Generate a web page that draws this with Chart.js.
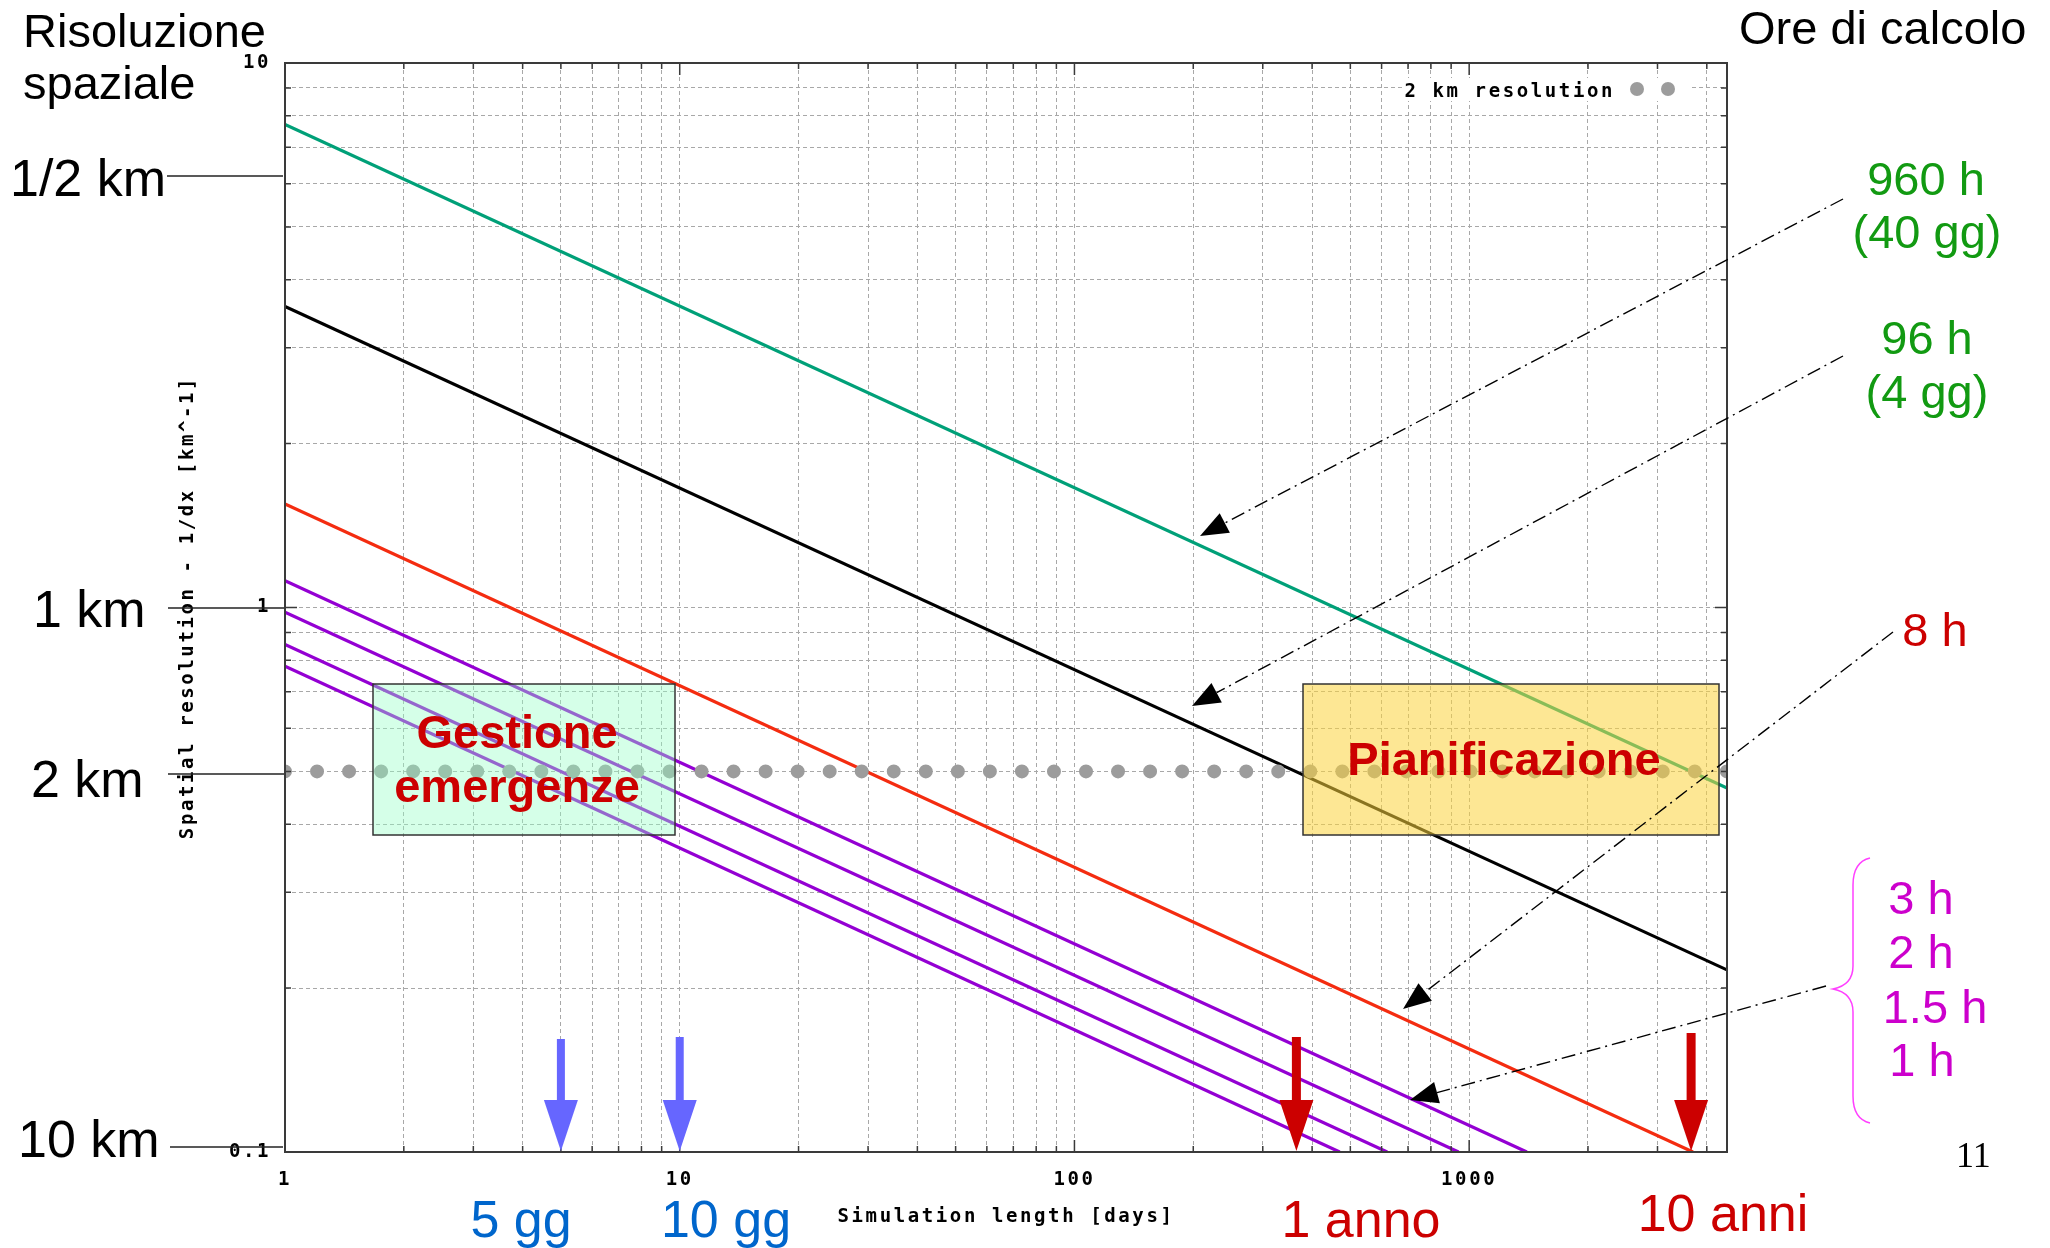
<!DOCTYPE html>
<html>
<head>
<meta charset="utf-8">
<title>Risoluzione spaziale e ore di calcolo</title>
<script src="https://cdn.jsdelivr.net/npm/chart.js@4/dist/chart.umd.min.js"></script>
<style>
  html, body { margin: 0; padding: 0; background: #ffffff; }
  #wrap { position: relative; width: 2050px; height: 1248px; }
  canvas { display: block; }
</style>
</head>
<body>
<div id="wrap"><canvas id="plot" width="2050" height="1248"></canvas></div>
<script>
// ---- data -------------------------------------------------------------
// CPU-time curves: spatial resolution (1/dx, km^-1) against simulation length (days)
const seriesNames   = ['960 h', '96 h', '8 h', '3 h', '2 h', '1.5 h', '1 h'];
const seriesColors  = ['#00a078', '#000000', '#f42c10', '#9400d3', '#9400d3', '#9400d3', '#9400d3'];
const firstDay      = [1, 1, 1, 1, 1, 1, 1];
const resAtFirstDay = [7.71, 3.57, 1.55, 1.12, 0.98, 0.855, 0.78];
const lastDay       = [4500, 4500, 3690, 1400, 940, 620, 470];
const resAtLastDay  = [0.466, 0.216, 0.1, 0.1, 0.1, 0.1, 0.1];

// reference level: 2 km grid spacing
const refName = '2 km resolution';
const refDays = [1, 4500];
const refRes  = [0.5, 0.5];

// axes
const xRange = [1, 4500];
const yRange = [0.1, 10];
const xTickLabels = [1, 10, 100, 1000];
const yTickLabels = [0.1, 1, 10];

// time horizons marked under the plot
const markerDays   = [5, 10, 365, 3650];
const markerLabels = ['5 gg', '10 gg', '1 anno', '10 anni'];

// ---- helpers ----------------------------------------------------------
const MONO = "'DejaVu Sans Mono', 'Liberation Mono', monospace";
const SANS = "'Liberation Sans', Arial, sans-serif";
const MONO_SPACING = '2.6px';

function wholeSignificand(v) {
  const p = Math.pow(10, Math.floor(Math.log10(v) + 1e-9));
  const s = v / p;
  return Math.abs(s - Math.round(s)) < 1e-6;
}
function isDecade(v) {
  const l = Math.log10(v);
  return Math.abs(l - Math.round(l)) < 1e-9;
}
function inList(list, v) {
  return list.some(t => Math.abs(t - v) / t < 1e-9);
}
function keepWholeTicks(scale) {
  scale.ticks = scale.ticks.filter(t => wholeSignificand(t.value));
}

const datasets = [{
  label: refName,
  data: refDays.map((d, i) => ({ x: d, y: refRes[i] })),
  borderColor: '#9c9c9c',
  borderWidth: 14,
  borderDash: [0, 32.04],
  borderCapStyle: 'round',
  pointRadius: 0,
  tension: 0
}];
seriesNames.forEach((name, i) => {
  datasets.push({
    label: name,
    data: [{ x: firstDay[i], y: resAtFirstDay[i] }, { x: lastDay[i], y: resAtLastDay[i] }],
    borderColor: seriesColors[i],
    borderWidth: 3.2,
    pointRadius: 0,
    tension: 0
  });
});

// ---- drawing helpers for the slide annotations ------------------------
function text(ctx, str, x, y, font, color, align) {
  ctx.font = font;
  ctx.fillStyle = color;
  ctx.textAlign = align || 'left';
  ctx.textBaseline = 'alphabetic';
  ctx.fillText(str, x, y);
}
function pointer(ctx, x0, y0, x1, y1) {
  const a = Math.atan2(y1 - y0, x1 - x0);
  const len = 28, half = 11;
  const bx = x1 - len * Math.cos(a), by = y1 - len * Math.sin(a);
  ctx.save();
  ctx.strokeStyle = '#000';
  ctx.lineWidth = 1.4;
  ctx.setLineDash([14, 5, 2, 5]);
  ctx.beginPath();
  ctx.moveTo(x0, y0);
  ctx.lineTo(bx, by);
  ctx.stroke();
  ctx.setLineDash([]);
  ctx.fillStyle = '#000';
  ctx.beginPath();
  ctx.moveTo(x1, y1);
  ctx.lineTo(bx + half * Math.sin(a), by - half * Math.cos(a));
  ctx.lineTo(bx - half * Math.sin(a), by + half * Math.cos(a));
  ctx.closePath();
  ctx.fill();
  ctx.restore();
}
function bigArrow(ctx, x, top, headBase, tip, shaft, half, color) {
  ctx.fillStyle = color;
  ctx.fillRect(x - shaft / 2, top, shaft, headBase - top + 1);
  ctx.beginPath();
  ctx.moveTo(x - half, headBase);
  ctx.lineTo(x + half, headBase);
  ctx.lineTo(x, tip);
  ctx.closePath();
  ctx.fill();
}
function leader(ctx, x0, x1, y) {
  ctx.strokeStyle = '#222';
  ctx.lineWidth = 1.5;
  ctx.setLineDash([]);
  ctx.beginPath();
  ctx.moveTo(x0, y);
  ctx.lineTo(x1, y);
  ctx.stroke();
}

const overlay = {
  id: 'overlay',
  beforeDraw(chart) {
    chart.ctx.letterSpacing = MONO_SPACING;
  },
  afterDraw(chart) {
    const ctx = chart.ctx;
    const area = chart.chartArea;
    const xs = chart.scales.x, ys = chart.scales.y;
    ctx.save();
    ctx.letterSpacing = '0px';

    // translucent application boxes
    ctx.fillStyle = 'rgba(150, 255, 198, 0.40)';
    ctx.fillRect(373, 684, 302, 151);
    ctx.fillStyle = 'rgba(252, 212, 60, 0.55)';
    ctx.fillRect(1303, 684, 416, 151);
    ctx.strokeStyle = '#333';
    ctx.lineWidth = 1.5;
    ctx.strokeRect(373, 684, 302, 151);
    ctx.strokeRect(1303, 684, 416, 151);

    // plot frame with inward ticks on all four sides
    ctx.strokeStyle = '#3a3a3a';
    ctx.lineWidth = 1.5;
    ctx.beginPath();
    xs.ticks.forEach(t => {
      const px = xs.getPixelForValue(t.value);
      const l = isDecade(t.value) ? 12 : 6;
      ctx.moveTo(px, area.bottom); ctx.lineTo(px, area.bottom - l);
      ctx.moveTo(px, area.top); ctx.lineTo(px, area.top + l);
    });
    ys.ticks.forEach(t => {
      const py = ys.getPixelForValue(t.value);
      const l = isDecade(t.value) ? 12 : 6;
      ctx.moveTo(area.left, py); ctx.lineTo(area.left + l, py);
      ctx.moveTo(area.right, py); ctx.lineTo(area.right - l, py);
    });
    ctx.stroke();
    ctx.lineWidth = 2;
    ctx.strokeRect(area.left, area.top, area.right - area.left, area.bottom - area.top);

    // key
    ctx.fillStyle = '#ffffff';
    ctx.fillRect(1402, 78, 290, 23);
    ctx.letterSpacing = MONO_SPACING;
    text(ctx, refName, 1615, 97, 'bold 19px ' + MONO, '#000', 'right');
    ctx.letterSpacing = '0px';
    ctx.fillStyle = '#9c9c9c';
    [1637, 1668].forEach(cx => { ctx.beginPath(); ctx.arc(cx, 89, 7, 0, 2 * Math.PI); ctx.fill(); });

    // box captions
    const boxFont = 'bold 47px ' + SANS;
    text(ctx, 'Gestione', 517, 748, boxFont, '#cc0000', 'center');
    text(ctx, 'emergenze', 517, 802, boxFont, '#cc0000', 'center');
    text(ctx, 'Pianificazione', 1504, 775, boxFont, '#cc0000', 'center');

    // headings
    const big = '47px ' + SANS;
    text(ctx, 'Risoluzione', 23, 47, big, '#000');
    text(ctx, 'spaziale', 23, 99, big, '#000');
    text(ctx, 'Ore di calcolo', 1739, 44, big, '#000');

    // resolution labels on the left
    const lab = '52px ' + SANS;
    text(ctx, '1/2 km', 10, 196, lab, '#000');
    leader(ctx, 167, 283, 176);
    text(ctx, '1 km', 33, 627, lab, '#000');
    leader(ctx, 168, 284, 608);
    text(ctx, '2 km', 31, 797, lab, '#000');
    leader(ctx, 168, 284, 774);
    text(ctx, '10 km', 18, 1157, lab, '#000');
    leader(ctx, 170, 283, 1147);

    // CPU-time labels on the right
    const green = '#129a12', red = '#cc0000', mag = '#cc00cc';
    text(ctx, '960 h', 1926, 195, big, green, 'center');
    text(ctx, '(40 gg)', 1927, 248, big, green, 'center');
    text(ctx, '96 h', 1927, 354, big, green, 'center');
    text(ctx, '(4 gg)', 1927, 408, big, green, 'center');
    text(ctx, '8 h', 1935, 646, big, red, 'center');
    text(ctx, '3 h', 1921, 914, big, mag, 'center');
    text(ctx, '2 h', 1921, 968, big, mag, 'center');
    text(ctx, '1.5 h', 1935, 1023, big, mag, 'center');
    text(ctx, '1 h', 1922, 1076, big, mag, 'center');

    // brace grouping the short runs
    ctx.strokeStyle = '#ff40ff';
    ctx.lineWidth = 1.5;
    ctx.beginPath();
    ctx.moveTo(1870, 858);
    ctx.quadraticCurveTo(1853, 862, 1853, 885);
    ctx.lineTo(1853, 966);
    ctx.quadraticCurveTo(1853, 985, 1833, 989);
    ctx.quadraticCurveTo(1853, 993, 1853, 1012);
    ctx.lineTo(1853, 1096);
    ctx.quadraticCurveTo(1853, 1119, 1870, 1123);
    ctx.stroke();

    // dash-dot pointers from the labels to the curves
    pointer(ctx, 1843, 199, 1200, 536);
    pointer(ctx, 1843, 356, 1192, 706);
    pointer(ctx, 1893, 632, 1403, 1009);
    pointer(ctx, 1826, 986, 1410, 1100);

    // time-horizon arrows on the x axis
    const mColors = ['#6666ff', '#6666ff', '#cc0000', '#cc0000'];
    const mTop = [1039, 1037, 1037, 1033];
    const mShaft = [8, 8, 9, 9];
    markerDays.forEach((d, i) => {
      const px = xs.getPixelForValue(d);
      bigArrow(ctx, px, mTop[i], 1100, area.bottom - 1, mShaft[i], 17, mColors[i]);
    });
    const mLabelX = [521, 726, 1361, 1723];
    const mLabelY = [1237, 1237, 1237, 1231];
    const mLabelColor = ['#0066cc', '#0066cc', '#cc0000', '#cc0000'];
    markerLabels.forEach((s, i) => text(ctx, s, mLabelX[i], mLabelY[i], lab, mLabelColor[i], 'center'));

    // page number
    text(ctx, '11', 1956, 1167, '36px "Liberation Serif", "Times New Roman", serif', '#000');

    ctx.restore();
  }
};

const tickFont = { family: MONO, size: 19, weight: 'bold' };

new Chart(document.getElementById('plot'), {
  type: 'line',
  data: { datasets },
  options: {
    responsive: false,
    animation: false,
    events: [],
    devicePixelRatio: 1,
    layout: { padding: { left: 0, top: 63, right: 323, bottom: 0 } },
    plugins: { legend: { display: false }, tooltip: { enabled: false } },
    scales: {
      x: {
        type: 'logarithmic',
        position: 'bottom',
        min: xRange[0],
        max: xRange[1],
        afterBuildTicks: keepWholeTicks,
        afterFit: s => { s.height = 96; },
        grid: { color: '#a8a8a8', lineWidth: 1, drawTicks: false, tickLength: 0 },
        border: { display: false, dash: [4, 3] },
        ticks: {
          autoSkip: false, maxRotation: 0, minRotation: 0, padding: 17,
          color: '#000', font: tickFont,
          callback: v => inList(xTickLabels, v) ? String(v) : ''
        },
        title: {
          display: true, text: 'Simulation length [days]', color: '#000',
          font: tickFont, padding: { top: 0, bottom: 20 }
        }
      },
      y: {
        type: 'logarithmic',
        position: 'left',
        min: yRange[0],
        max: yRange[1],
        afterBuildTicks: keepWholeTicks,
        afterFit: s => { s.width = 285; },
        grid: { color: '#a8a8a8', lineWidth: 1, drawTicks: false, tickLength: 0 },
        border: { display: false, dash: [4, 3] },
        ticks: {
          autoSkip: false, padding: 14, color: '#000', font: tickFont,
          callback: v => inList(yTickLabels, v) ? String(v) : ''
        },
        title: {
          display: true, text: 'Spatial resolution - 1/dx [km^-1]', color: '#000',
          font: tickFont, padding: { top: 177, bottom: 0 }
        }
      }
    }
  },
  plugins: [overlay]
});
</script>
</body>
</html>
